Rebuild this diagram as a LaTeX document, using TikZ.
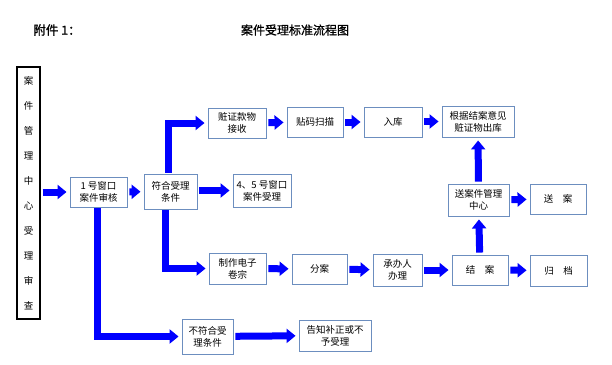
\documentclass[tikz,border=0pt]{standalone}
\usepackage{fontspec}
\newfontfamily\cjk{Noto Sans CJK SC}
\newfontfamily\cjkhead[FakeBold=1.2]{Noto Sans CJK SC}
\usetikzlibrary{arrows.meta}
\definecolor{boxblue}{RGB}{108,142,191}
\definecolor{flowblue}{RGB}{0,0,255}

\begin{document}
\begin{tikzpicture}[
      x=1pt, y=-1pt,
      every node/.style={font=\cjk\fontsize{9.5}{12}\selectfont},
      stepbox/.style={draw=boxblue, line width=0.9pt, align=center, inner sep=1pt},
      flow/.style={draw=flowblue, line width=7pt,
        -{Triangle[width=14pt,length=9pt]},
        shorten <=2pt, shorten >=3pt}
    ]
    \useasboundingbox (0,0) rectangle (612,364);

    % Titles
    \node[font=\cjkhead\fontsize{12.5}{15}\selectfont] (annex) at (57,30) {附件 1：};
    \node[font=\cjkhead\fontsize{12}{15}\selectfont] (title) at (295,30) {案件受理标准流程图};

    % Left column
    \node[
      draw,
      line width=1.1pt,
      minimum width=23pt,
      minimum height=252pt,
      align=center,
      inner sep=0pt,
      font=\cjk\fontsize{9.5}{25}\selectfont
    ] (centre) at (28.5,193) {案\\件\\管\\理\\中\\心\\受\\理\\审\\查};

    % Windows
    \node[stepbox, minimum width=57pt, minimum height=30pt] (win1) at (98.5,192) {1 号窗口\\案件审核};
    \node[stepbox, minimum width=53pt, minimum height=35pt] (accept) at (170.5,191.5) {符合受理\\条件};
    \node[stepbox, minimum width=58pt, minimum height=33pt] (win45) at (262,190.5) {4、5 号窗口\\案件受理};

    % Upper row
    \node[stepbox, minimum width=58pt, minimum height=30pt] (receive) at (237,123) {赃证款物\\接收};
    \node[stepbox, minimum width=56pt, minimum height=30pt] (scan) at (315,122) {贴码扫描};
    \node[stepbox, minimum width=58pt, minimum height=30pt] (store) at (393,122) {入库};
    \node[stepbox, minimum width=72pt, minimum height=31pt] (release) at (478,121.5) {根据结案意见\\赃证物出库};

    % Middle right
    \node[stepbox, minimum width=61pt, minimum height=32pt] (mgmt) at (478.5,200) {送案件管理\\中心};
    \node[stepbox, minimum width=56pt, minimum height=30pt] (send) at (558,199) {送\quad 案};

    % Lower row
    \node[stepbox, minimum width=57pt, minimum height=31pt] (ebook) at (237.5,268.5) {制作电子\\卷宗};
    \node[stepbox, minimum width=55pt, minimum height=30pt] (assign) at (319.5,269) {分案};
    \node[stepbox, minimum width=49pt, minimum height=32pt] (handle) at (397.5,270) {承办人\\办理};
    \node[stepbox, minimum width=56pt, minimum height=30pt] (close) at (480,270) {结\quad 案};
    \node[stepbox, minimum width=57pt, minimum height=31pt] (archive) at (558.5,270.5) {归\quad 档};

    % Bottom row
    \node[stepbox, minimum width=51pt, minimum height=35pt] (reject) at (207.5,336.5) {不符合受\\理条件};
    \node[stepbox, minimum width=72pt, minimum height=31pt] (notify) at (335,335.5) {告知补正或不\\予受理};

    % Arrows
    \draw[flow] (centre.east |- win1) -- (win1);
    \draw[flow] (win1) -- (accept);
    \draw[flow] (accept.east |- win45) -- (win45);
    \draw[flow, shorten <=1pt] (accept.north -| 168,0) |- (receive.west);
    \draw[flow] (receive) -- (scan);
    \draw[flow] (scan) -- (store);
    \draw[flow] (store.east |- release) -- (release);
    \draw[flow] (mgmt) -- (release);
    \draw[flow] (mgmt) -- (send);
    \draw[flow, shorten <=1pt] (accept.south -| 165,0) |- (ebook.west);
    \draw[flow] (ebook) -- (assign);
    \draw[flow] (assign) -- (handle);
    \draw[flow] (handle) -- (close);
    \draw[flow] (close) -- (archive);
    \draw[flow] (close) -- (mgmt);
    \draw[flow, shorten <=1pt] (win1.south -| 97,0) |- (reject.west);
    \draw[flow] (reject) -- (notify);

  \end{tikzpicture}
\end{document}
